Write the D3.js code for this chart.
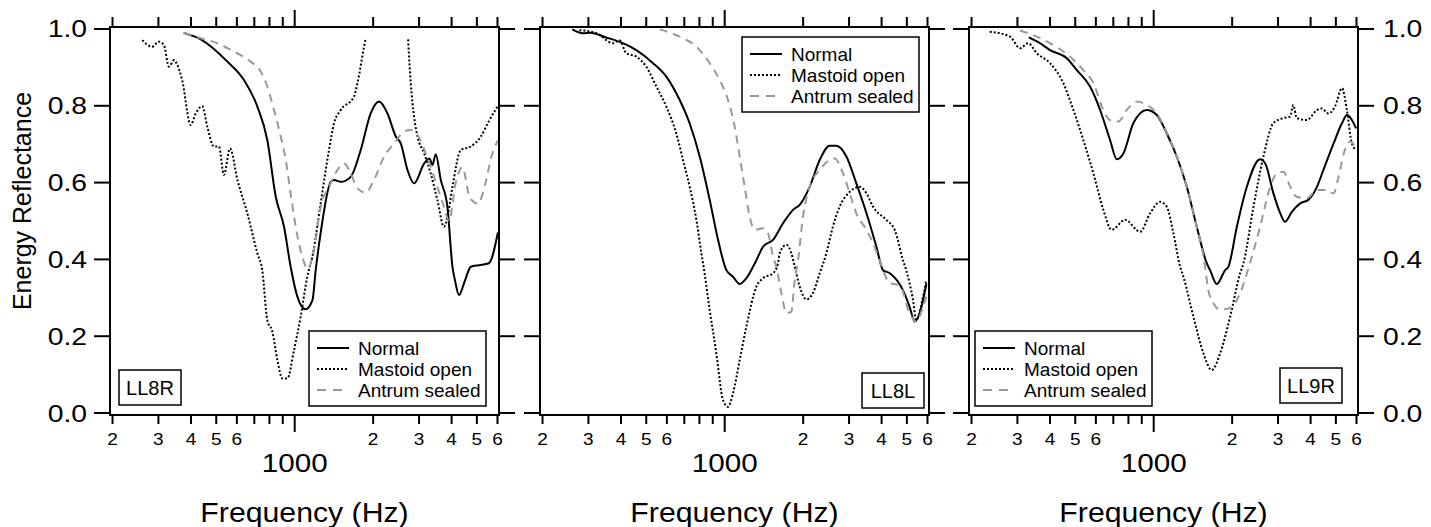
<!DOCTYPE html>
<html>
<head>
<meta charset="utf-8">
<script src="https://cdn.jsdelivr.net/npm/d3@7"></script>
<style>
  html, body { margin: 0; padding: 0; background: #fff; }
  svg { display: block; font-family: "Liberation Sans", Arial, sans-serif; }
</style>
</head>
<body>
<svg id="chart" width="1431" height="527"></svg>
<script>
// energy reflectance, three ears, [frequency Hz, reflectance]
const ll8rNormal = [[375,0.99],[436,0.973],[552,0.915],[639,0.867],[719,0.798],[785,0.711],[846,0.563],[910,0.485],[965,0.381],[1024,0.303],[1100,0.27],[1170,0.294],[1204,0.372],[1258,0.469],[1375,0.602],[1415,0.607],[1502,0.602],[1641,0.615],[1792,0.685],[1957,0.78],[2107,0.811],[2270,0.78],[2443,0.72],[2552,0.702],[2708,0.633],[2871,0.598],[3139,0.65],[3290,0.663],[3378,0.646],[3477,0.674],[3635,0.607],[3855,0.537],[4030,0.381],[4120,0.346],[4270,0.307],[4500,0.345],[4740,0.381],[5090,0.385],[5560,0.39],[6020,0.47]];
const ll8rMastoid = [[260,0.971],[284,0.954],[301,0.967],[315,0.958],[329,0.902],[345,0.919],[352,0.911],[370,0.867],[399,0.75],[417,0.78],[442,0.799],[462,0.746],[490,0.694],[512,0.694],[535,0.62],[565,0.689],[603,0.607],[658,0.52],[719,0.416],[751,0.372],[785,0.242],[821,0.212],[858,0.138],[897,0.09],[937,0.09],[994,0.164],[1054,0.251],[1118,0.355],[1169,0.407],[1258,0.546],[1354,0.685],[1415,0.754],[1502,0.789],[1689,0.824],[1741,0.859],[1846,0.954],[1873,0.976],[1874,null],[2722,null],[2723,0.973],[2788,0.859],[2871,0.772],[2960,0.72],[3139,0.676],[3325,0.624],[3527,0.555],[3740,0.485],[3855,0.511],[4030,0.589],[4340,0.685],[4740,0.694],[5180,0.72],[5560,0.76],[6020,0.8]];
const ll8rSealed = [[375,0.99],[436,0.976],[505,0.963],[585,0.941],[678,0.915],[741,0.889],[785,0.85],[833,0.789],[884,0.72],[924,0.659],[965,0.572],[1009,0.485],[1070,0.407],[1118,0.375],[1186,0.424],[1258,0.537],[1354,0.589],[1459,0.633],[1546,0.65],[1641,0.624],[1741,0.585],[1873,0.574],[2016,0.607],[2200,0.667],[2408,0.702],[2630,0.733],[2788,0.737],[2960,0.724],[3185,0.676],[3325,0.641],[3527,0.589],[3740,0.537],[3910,0.5],[4150,0.6],[4400,0.64],[4700,0.56],[5050,0.545],[5400,0.6],[5700,0.67],[6020,0.71]];

const ll8lNormal = [[260,0.999],[286,0.989],[304,0.99],[351,0.978],[407,0.963],[458,0.945],[531,0.911],[597,0.876],[672,0.815],[734,0.754],[802,0.668],[876,0.555],[943,0.451],[1015,0.372],[1076,0.355],[1142,0.336],[1211,0.351],[1323,0.398],[1403,0.433],[1533,0.451],[1674,0.494],[1829,0.529],[1940,0.542],[2119,0.589],[2315,0.659],[2529,0.696],[2682,0.696],[2930,0.668],[3200,0.598],[3500,0.52],[3820,0.433],[4050,0.372],[4300,0.364],[4830,0.32],[5120,0.277],[5360,0.238],[5600,0.26],[5940,0.336]];
const ll8lMastoid = [[277,0.997],[322,0.989],[373,0.963],[395,0.971],[419,0.937],[458,0.928],[500,0.902],[547,0.85],[597,0.798],[652,0.728],[692,0.659],[734,0.589],[779,0.503],[814,0.416],[826,0.39],[876,0.268],[929,0.155],[985,0.034],[1030,0.016],[1076,0.051],[1142,0.138],[1211,0.225],[1323,0.329],[1403,0.351],[1533,0.364],[1602,0.39],[1625,0.416],[1726,0.438],[1802,0.416],[1857,0.381],[1940,0.329],[2060,0.296],[2180,0.312],[2315,0.364],[2455,0.416],[2600,0.485],[2760,0.537],[3020,0.576],[3300,0.589],[3500,0.572],[3710,0.537],[4170,0.503],[4490,0.477],[4830,0.398],[4970,0.372],[5280,0.294],[5430,0.242],[5770,0.303],[5940,0.346]];
const ll8lSealed = [[563,0.999],[672,0.98],[779,0.954],[876,0.911],[957,0.867],[1030,0.815],[1092,0.746],[1142,0.668],[1193,0.589],[1247,0.511],[1303,0.477],[1403,0.481],[1466,0.468],[1533,0.407],[1579,0.381],[1650,0.312],[1726,0.26],[1802,0.264],[1857,0.346],[1912,0.398],[1997,0.511],[2119,0.589],[2315,0.633],[2529,0.659],[2640,0.663],[2845,0.624],[3020,0.572],[3200,0.52],[3500,0.477],[3710,0.442],[3930,0.398],[4050,0.372],[4300,0.338],[4690,0.333],[5120,0.26],[5430,0.238],[5770,0.277],[5940,0.303]];

const ll9rNormal = [[332,0.978],[366,0.963],[400,0.945],[464,0.924],[507,0.893],[570,0.85],[623,0.789],[680,0.711],[722,0.661],[765,0.676],[836,0.755],[941,0.789],[1028,0.776],[1123,0.728],[1226,0.668],[1340,0.589],[1463,0.485],[1598,0.39],[1646,0.372],[1746,0.336],[1880,0.372],[1935,0.381],[2085,0.485],[2277,0.589],[2560,0.661],[2680,0.65],[2880,0.572],[3060,0.52],[3190,0.498],[3390,0.524],[3650,0.546],[3920,0.555],[4230,0.589],[4480,0.633],[4900,0.702],[5280,0.755],[5510,0.776],[5760,0.763],[5980,0.741]];
const ll9rMastoid = [[235,0.993],[281,0.98],[307,0.95],[330,0.963],[356,0.937],[400,0.911],[450,0.859],[492,0.789],[537,0.711],[587,0.624],[641,0.529],[690,0.477],[777,0.503],[887,0.472],[969,0.52],[1058,0.55],[1123,0.537],[1190,0.468],[1263,0.381],[1300,0.355],[1420,0.251],[1552,0.155],[1671,0.112],[1798,0.155],[1965,0.251],[2146,0.364],[2210,0.39],[2414,0.537],[2637,0.668],[2880,0.755],[3146,0.768],[3340,0.772],[3430,0.802],[3540,0.768],[3870,0.763],[4230,0.789],[4410,0.793],[4680,0.78],[4960,0.798],[5280,0.846],[5510,0.789],[5760,0.702],[5980,0.685]];
const ll9rSealed = [[307,0.996],[356,0.98],[412,0.958],[478,0.928],[537,0.893],[587,0.859],[641,0.789],[680,0.763],[732,0.759],[788,0.789],[861,0.811],[941,0.802],[1028,0.78],[1123,0.73],[1226,0.668],[1340,0.589],[1463,0.485],[1560,0.4],[1620,0.32],[1694,0.286],[1798,0.27],[1965,0.273],[2146,0.312],[2340,0.39],[2560,0.485],[2800,0.589],[2970,0.624],[3146,0.628],[3340,0.589],[3540,0.563],[3870,0.559],[4230,0.581],[4610,0.581],[4900,0.572],[5120,0.615],[5360,0.676],[5670,0.707],[5920,0.694]];

const seriesNames = ["Normal", "Mastoid open", "Antrum sealed"];
const earLabels = ["LL8R", "LL8L", "LL9R"];
const panelData = [
  [ll8rNormal, ll8rMastoid, ll8rSealed],
  [ll8lNormal, ll8lMastoid, ll8lSealed],
  [ll9rNormal, ll9rMastoid, ll9rSealed]
];
const yTicks = [0, 0.2, 0.4, 0.6, 0.8, 1.0];
const minorTicks = [200, 300, 400, 500, 600, 700, 800, 900, 2000, 3000, 4000, 5000, 6000];
const labeledMinor = [200, 300, 400, 500, 600, 2000, 3000, 4000, 5000, 6000];

const svg = d3.select('#chart');

// panel layout
const panelLeft = [110, 540, 969];
const panelW = 389;
const plotTop = 27, plotBottom = 415;
const legendPos = [{x: 309, y: 331}, {x: 742, y: 37}, {x: 975, y: 331}];
const labelPos = [{x: 119, y: 370}, {x: 862, y: 373}, {x: 1280, y: 368}];

const styles = [
  {stroke: '#000', dash: null},
  {stroke: '#000', dash: '2,2'},
  {stroke: '#999', dash: '8,6'}
];

// the original text is a bit wider than Liberation Sans, stretch it horizontally
function wideText(parent, x, yy, str, size, sx, anchor) {
  return parent.append('text')
    .attr('transform', `translate(${x},${yy}) scale(${sx},1)`)
    .attr('text-anchor', anchor || 'middle')
    .attr('font-size', size)
    .text(str);
}

const y = d3.scaleLinear().domain([-0.0052, 1.0052]).range([plotBottom, plotTop]);

panelData.forEach((series, i) => {
  const x0 = panelLeft[i];
  const x = d3.scaleLog().domain([195.6, 6080]).range([x0, x0 + panelW]);
  const g = svg.append('g');

  // curves
  const line = d3.line()
    .defined(d => d[1] !== null)
    .x(d => x(d[0]))
    .y(d => y(d[1]))
    .curve(d3.curveMonotoneX);
  series.forEach((s, k) => {
    g.append('path')
      .datum(s)
      .attr('d', line)
      .attr('fill', 'none')
      .attr('stroke', styles[k].stroke)
      .attr('stroke-width', 2)
      .attr('stroke-dasharray', styles[k].dash);
  });

  // frame
  g.append('rect')
    .attr('x', x0).attr('y', plotTop)
    .attr('width', panelW).attr('height', plotBottom - plotTop)
    .attr('fill', 'none').attr('stroke', '#000').attr('stroke-width', 2);

  // y ticks both sides, outward
  yTicks.forEach(t => {
    g.append('line').attr('x1', x0 - 16).attr('x2', x0).attr('y1', y(t)).attr('y2', y(t))
      .attr('stroke', '#000').attr('stroke-width', 2);
    g.append('line').attr('x1', x0 + panelW).attr('x2', x0 + panelW + 16).attr('y1', y(t)).attr('y2', y(t))
      .attr('stroke', '#000').attr('stroke-width', 2);
  });

  // x ticks top and bottom
  minorTicks.forEach(t => {
    g.append('line').attr('x1', x(t)).attr('x2', x(t)).attr('y1', plotTop).attr('y2', plotTop - 10)
      .attr('stroke', '#000').attr('stroke-width', 2);
    g.append('line').attr('x1', x(t)).attr('x2', x(t)).attr('y1', plotBottom).attr('y2', plotBottom + 9)
      .attr('stroke', '#000').attr('stroke-width', 2);
  });
  g.append('line').attr('x1', x(1000)).attr('x2', x(1000)).attr('y1', plotTop).attr('y2', plotTop - 17)
    .attr('stroke', '#000').attr('stroke-width', 2);
  g.append('line').attr('x1', x(1000)).attr('x2', x(1000)).attr('y1', plotBottom).attr('y2', plotBottom + 17)
    .attr('stroke', '#000').attr('stroke-width', 2);

  labeledMinor.forEach(t => wideText(g, x(t), 445, String(t).charAt(0), 17, 1.12));
  wideText(g, x(1000), 472, '1000', 26, 1.14);
  wideText(g, x0 + panelW / 2, 522, 'Frequency (Hz)', 27, 1.12);

  // legend
  const lp = legendPos[i];
  const lg = g.append('g').attr('transform', `translate(${lp.x},${lp.y})`);
  lg.append('rect').attr('width', 177).attr('height', 75)
    .attr('fill', '#fff').attr('stroke', '#000').attr('stroke-width', 1.5);
  seriesNames.forEach((name, k) => {
    const ry = 17 + k * 21;
    lg.append('line').attr('x1', 8).attr('x2', 40).attr('y1', ry).attr('y2', ry)
      .attr('stroke', styles[k].stroke).attr('stroke-width', 2)
      .attr('stroke-dasharray', k === 2 ? '9,7' : styles[k].dash);
    lg.append('text').attr('x', 49).attr('y', ry + 7)
      .attr('font-size', 19).text(name);
  });

  // ear label box
  const ep = labelPos[i];
  g.append('rect').attr('x', ep.x).attr('y', ep.y).attr('width', 62).attr('height', 35)
    .attr('fill', '#fff').attr('stroke', '#000').attr('stroke-width', 1.5);
  g.append('text').attr('x', ep.x + 31).attr('y', ep.y + 25)
    .attr('text-anchor', 'middle').attr('font-size', 20).text(earLabels[i]);
});

// y tick labels, left of first panel and right of last panel
yTicks.forEach(t => {
  wideText(svg, 87, y(t) + 8.5, t.toFixed(1), 24, 1.18, 'end');
  wideText(svg, 1383, y(t) + 8.5, t.toFixed(1), 24, 1.18, 'start');
});

svg.append('text')
  .attr('transform', 'translate(31,201) rotate(-90)')
  .attr('text-anchor', 'middle')
  .attr('font-size', 25)
  .text('Energy Reflectance');
</script>
</body>
</html>
